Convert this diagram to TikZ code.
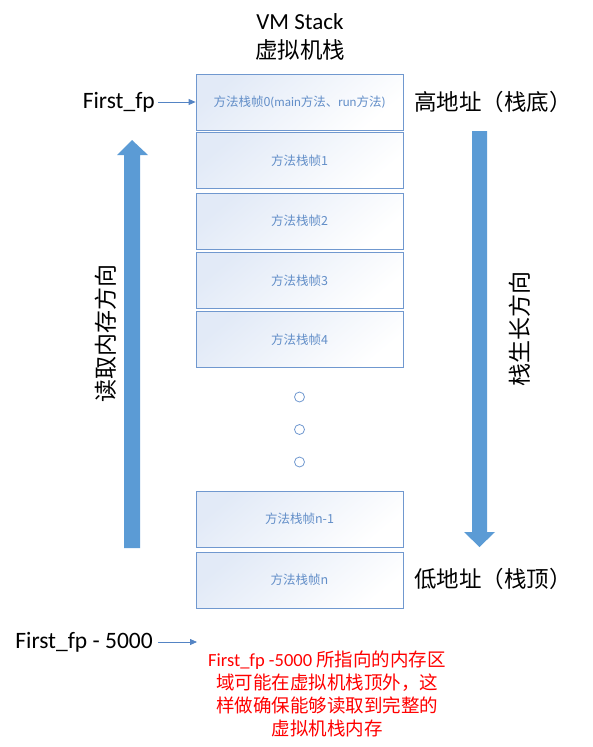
\documentclass[tikz,border=0pt]{standalone}
\usepackage{fontspec}
\setmainfont{Noto Sans CJK SC}
\newfontfamily\lat{Carlito}
\usetikzlibrary{arrows.meta}
\definecolor{boxline}{RGB}{112,152,207}
\definecolor{boxtext}{RGB}{98,142,200}
\definecolor{boxfill}{RGB}{226,234,247}
\definecolor{bigblue}{RGB}{91,155,213}
\definecolor{ptrcol}{RGB}{84,132,196}
\begin{document}
\begin{tikzpicture}[x=1pt,y=1pt,
  frame/.style={draw=boxline, line width=0.8pt, top color=boxfill, bottom color=white,
    shading angle=40, minimum width=207pt, minimum height=56pt, inner sep=0pt,
    text=boxtext, font=\fontsize{12.5}{14}\selectfont},
  dotnode/.style={circle, draw=boxline, line width=0.8pt, minimum size=10pt, inner sep=0pt},
  latlabel/.style={font=\lat\fontsize{23.5}{26}\selectfont, inner sep=0pt},
  cjklabel/.style={font=\fontsize{22.5}{26}\selectfont, inner sep=0pt},
  ptrline/.style={draw=ptrcol, line width=0.8pt, -{Triangle[length=7pt,width=6pt]}},
  bigarrow/.style={fill=bigblue, draw=none},
  note/.style={text=red, align=center, font=\fontsize{18.5}{23}\selectfont, inner sep=0pt}
]
\path[use as bounding box] (0,0) rectangle (593,-747);

\node[latlabel, font=\lat\fontsize{23}{26}\selectfont] (title) at (300,-22) {VM Stack};
\node[cjklabel] (title2) at (300,-50) {虚拟机栈};

\node[frame] (f0) at (299.5,-102) {方法栈帧0{\lat\fontsize{13}{14}\selectfont(main}方法、{\lat\fontsize{13}{14}\selectfont run}方法{\lat\fontsize{13}{14}\selectfont)}};
\node[frame] (f1) at (299.5,-160.5) {方法栈帧1};
\node[frame] (f2) at (299.5,-221) {方法栈帧2};
\node[frame] (f3) at (299.5,-280.5) {方法栈帧3};
\node[frame] (f4) at (299.5,-339.5) {方法栈帧4};
\node[frame] (fn1) at (299.5,-519) {方法栈帧n-1};
\node[frame] (fn) at (299.5,-580) {方法栈帧n};

\node[dotnode] (d1) at (299.5,-397) {};
\node[dotnode] (d2) at (299.5,-429.5) {};
\node[dotnode] (d3) at (299.5,-462) {};

\node[latlabel, anchor=east] (fp) at (155,-102) {First\_fp};
\draw[ptrline] ([xshift=3pt]fp.east) -- (f0.west);

\node[cjklabel, anchor=west] (high) at (414,-102) {高地址（栈底）};
\node[cjklabel, anchor=west] (low) at (414,-579) {低地址（栈顶）};

\draw[bigarrow] (124,-548) -- (124,-155) -- (117,-155) -- (132,-140) -- (148,-155) -- (140,-155) -- (140,-548) -- cycle;
\draw[bigarrow] (472,-131) -- (487,-131) -- (487,-532) -- (495,-532) -- (479.5,-547) -- (464,-532) -- (472,-532) -- cycle;

\node[cjklabel, font=\fontsize{23}{26}\selectfont, rotate=90] (readdir) at (106,-333) {读取内存方向};
\node[cjklabel, font=\fontsize{23}{26}\selectfont, rotate=90] (growdir) at (520,-328.5) {栈生长方向};

\node[latlabel, anchor=east] (fp2) at (153,-642) {First\_fp - 5000};
\coordinate (fp2end) at (197,-642);
\draw[ptrline] ([xshift=5pt]fp2.east) -- (fp2end);

\node[note, anchor=north] (notetext) at (327,-651) {{\lat First\_fp -5000} 所指向的内存区\\域可能在虚拟机栈顶外，这\\样做确保能够读取到完整的\\虚拟机栈内存};
\end{tikzpicture}
\end{document}
